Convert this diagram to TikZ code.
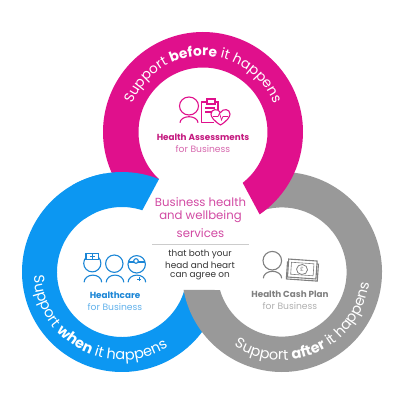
\documentclass[tikz,border=0pt]{standalone}
\usepackage{fontspec}
\setmainfont{Poppins}
\usetikzlibrary{decorations.text}
\definecolor{pinkring}{HTML}{E0108C}
\definecolor{bluering}{HTML}{0C97F2}
\definecolor{greyring}{HTML}{999999}
\definecolor{pinktext}{HTML}{D24AA3}
\definecolor{pinkbold}{HTML}{C4197F}
\definecolor{pinklite}{HTML}{D768AE}
\definecolor{bluebold}{HTML}{1B86D6}
\definecolor{bluelite}{HTML}{62B2EC}
\definecolor{greybold}{HTML}{808080}
\definecolor{greylite}{HTML}{B0B0B0}
\newcommand{\ringfont}{\fontsize{13.8}{15}\selectfont}
\newcommand{\lowringfont}{\fontsize{14.5}{15}\selectfont}
\tikzset{
  boldlabel/.style={font=\fontsize{8.8}{10}\selectfont\bfseries,inner sep=0pt},
  litelabel/.style={font=\fontsize{9.2}{10}\selectfont,inner sep=0pt},
  centrelabel/.style={font=\fontsize{11.7}{13}\selectfont,text=pinktext,inner sep=0pt},
  agreelabel/.style={font=\fontsize{8.9}{10}\selectfont,text=black!80,inner sep=0pt},
  pinkicon/.style={draw=pinkring,line width=1.1pt},
  blueicon/.style={draw=bluebold,line width=1.1pt},
  greyicon/.style={draw=greybold,line width=1.1pt},
}
\begin{document}
\begin{tikzpicture}[x=1pt,y=1pt]
\useasboundingbox (0,0) rectangle (400,400);
\fill[white] (0,0) rectangle (400,400);
% blue tail
\begin{scope}[shift={(122,128)}]
\fill[bluering] (100:100) arc[start angle=100,end angle=335,radius=100]
  -- (343.6:65) arc[start angle=343.6,end angle=115,radius=65] -- cycle;
\end{scope}
% grey
\begin{scope}[shift={(282,128)}]
\fill[greyring] (105:100) arc[start angle=105,end angle=-169.7,radius=100]
  -- (-163.8:64.6) arc[start angle=-163.8,end angle=110.7,radius=64.6] -- cycle;
\end{scope}
% pink
\begin{scope}[shift={(203,268)}]
\fill[pinkring] (-55.5:100) arc[start angle=-55.5,end angle=215,radius=100]
  -- (227:64.5) arc[start angle=227,end angle=-52,radius=64.5] -- cycle;
\end{scope}
% blue head, over pink
\begin{scope}[shift={(122,128)}]
\fill[bluering] (68.3:100) arc[start angle=68.3,end angle=120,radius=100]
  -- (125:65) arc[start angle=125,end angle=71.8,radius=65] -- cycle;
\end{scope}
% ring texts
\begin{scope}[shift={(203,268)}]
\path[decorate,decoration={text along path,text color=white,text align=center,
  text={|\ringfont|Support |\ringfont\bfseries|before|\ringfont| it happens}}]
  (175:76) arc[start angle=175,end angle=5,radius=76];
\end{scope}
\begin{scope}[shift={(122,128)}]
\path[decorate,decoration={text along path,text color=white,text align=center,
  text={|\lowringfont|Support |\lowringfont\bfseries|when|\lowringfont| it happens}}]
  (157:88) arc[start angle=157,end angle=327,radius=88];
\end{scope}
\begin{scope}[shift={(282,128)}]
\path[decorate,decoration={text along path,text color=white,text align=center,
  text={|\lowringfont|Support |\lowringfont\bfseries|after|\lowringfont| it happens}}]
  (210:88) arc[start angle=210,end angle=380,radius=88];
\end{scope}
% labels
\node[boldlabel,text=pinkbold] (ha) at (203,262.3) {Health Assessments};
\node[litelabel,text=pinklite] (hb) at (203,250.7) {for Business};
\node[boldlabel,text=bluebold] (hc) at (115,104.3) {Healthcare};
\node[litelabel,text=bluelite] (hd) at (115,93) {for Business};
\node[boldlabel,text=greybold] (he) at (290,106) {Health Cash Plan};
\node[litelabel,text=greylite] (hf) at (290,94) {for Business};
\node[centrelabel] (c1) at (200.5,198.3) {Business health};
\node[centrelabel] (c2) at (200.5,183) {and wellbeing};
\node[centrelabel] (c3) at (200.5,167) {services};
\node[agreelabel] (a1) at (200,146) {that both your};
\node[agreelabel] (a2) at (200,135) {head and heart};
\node[agreelabel] (a3) at (200,123.5) {can agree on};
\draw[black!20,line width=.9pt] (152,155.3) -- (249,155.3);
% pink icon
\draw[pinkicon] (189,294) ellipse[x radius=9.5,y radius=9];
\draw[pinkicon] (180,277.3) arc[start angle=180,end angle=0,x radius=9,y radius=6];
\draw[pinkicon,line join=round] (208,298) -- (201.7,298) -- (201.7,277.5) -- (214,277.5);
\draw[pinkicon] (215,298) -- (218,298) -- (218,290);
\draw[pinkicon] (207,296) rectangle (215,301);
\draw[pinkicon] (205,292) -- (215,292) (205,288) -- (215,288);
\draw[pinkicon,fill=white] (220.5,275) .. controls (214,279) and (211,283) .. (211,286)
  .. controls (211,291) and (218,292) .. (220.5,287.5)
  .. controls (223,292) and (230,291) .. (230,286)
  .. controls (230,283) and (227,279) .. (220.5,275) -- cycle;
\draw[pinkring,line width=.7pt] (213,283.5) -- (218,283.5) -- (219.5,287) -- (221.5,280) -- (223,283.5) -- (228,283.5);
% blue icon
\draw[blueicon] (92.3,136.7) circle[radius=8.6];
\draw[blueicon] (114.3,136.3) circle[radius=8.7];
\draw[blueicon] (136.7,135.7) circle[radius=8.7];
\foreach \cx in {92.9,115,136.9}
  \draw[blueicon] (\cx-8.8,117.7) arc[start angle=180,end angle=0,x radius=8.8,y radius=7.2];
\draw[blueicon,fill=white] (86,140.7) -- (86,146.5) -- (98.5,146.5) -- (98.5,140.7) -- cycle;
\draw[bluebold,line width=.8pt] (90,143.6) -- (95,143.6) (92.5,141.4) -- (92.5,145.8);
\draw[blueicon] (128,138) -- (145.4,138);
\draw[blueicon,fill=white] (136,139) circle[radius=2.3];
\draw[bluebold,line width=.8pt] (137.3,120.7) -- (141.3,120.7) (139.3,118.8) -- (139.3,122.6);
% grey icon
\draw[greyicon] (272.3,139.3) circle[radius=9.3];
\draw[greyicon] (263.3,121.7) arc[start angle=180,end angle=0,x radius=9.2,y radius=7];
\begin{scope}[rotate around={-4:(302,130)}]
\draw[greyicon,fill=white] (287,120) rectangle (318,137);
\draw[greyicon,fill=white] (288,122) rectangle (316.5,140);
\draw[greyicon,line width=.6pt] (291,125) rectangle (313.5,137);
\draw[greyicon,line width=.8pt] (302,130.5) ellipse[x radius=5.5,y radius=5];
\node[inner sep=0pt,text=greybold,font=\fontsize{6}{6}\selectfont] (pound) at (302,130.5) {£};
\end{scope}
\end{tikzpicture}
\end{document}
